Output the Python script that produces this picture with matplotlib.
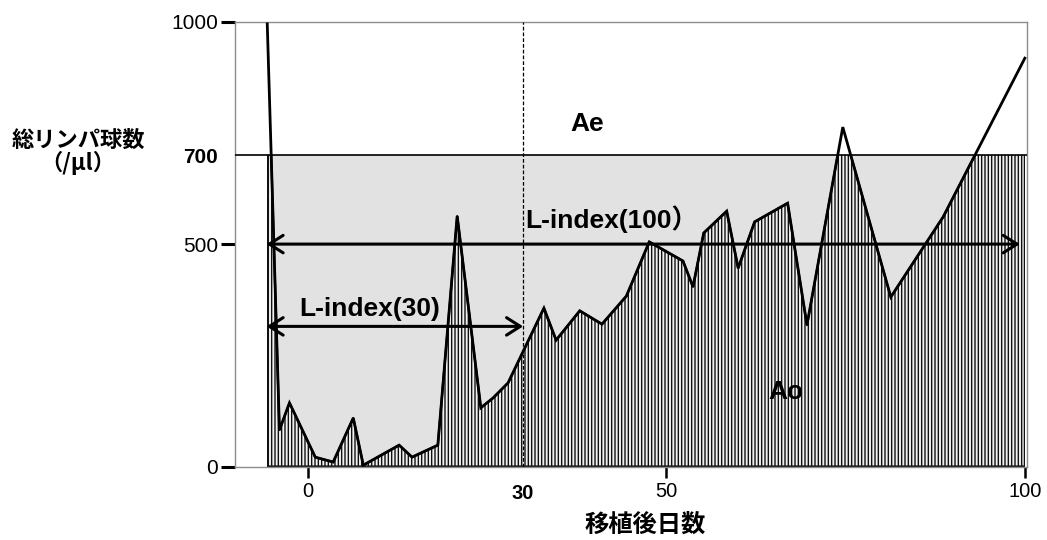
import matplotlib
matplotlib.use("Agg")
import matplotlib.pyplot as plt
from matplotlib.patches import Rectangle
from matplotlib.ticker import FixedLocator, FixedFormatter

plt.rcParams['font.family'] = ['Liberation Sans', 'Noto Sans CJK JP', 'DejaVu Sans']
plt.rcParams['hatch.linewidth'] = 1.0

# Total lymphocyte count after transplantation
days = [-5.7, -4.0, -2.6, 1.0, 3.5, 6.3, 7.7, 12.7, 14.5, 18.1, 20.8, 24.1, 25.8, 27.9,
        32.9, 34.6, 37.9, 41.0, 44.4, 47.6, 52.3, 53.7, 55.2, 58.4, 60.0, 62.3, 66.9,
        69.6, 74.6, 81.3, 88.6, 100.0]
counts = [995, 82, 143, 21, 10, 109, 3, 48, 21, 48, 563, 132, 154, 188,
          356, 284, 350, 320, 383, 505, 462, 404, 525, 574, 446, 550, 592,
          318, 763, 381, 561, 918]

threshold = 700
index_short = 30
index_long = 100
arrow_short_level = 315
arrow_long_level = 500

y_major = [0, 500, 1000]
y_major_labels = ['0', '500', '1000']
x_major = [0, 50, 100]
x_major_labels = ['0', '50', '100']

W, H = 1047, 540
fig = plt.figure(figsize=(W / 100, H / 100), dpi=100)
ax = fig.add_axes([235 / W, 1 - 466.5 / H, (1027 - 235) / W, (466.5 - 21.7) / H])
ax.set_xlim(-10.2, 100.3)
ax.set_ylim(0, 1000)

x0 = days[0]

# Expected area (light grey) up to the threshold
ax.fill_between([x0, index_long], 0, threshold, color='#e2e2e2', lw=0, zorder=1)

# Observed area (hatched), clipped at the threshold
poly = ax.fill_between(days, 0, counts, facecolor='#f0f0f0', edgecolor='#111111',
                       hatch='|||||', lw=1.6, zorder=2)
clip = Rectangle((x0, 0), index_long - x0, threshold, transform=ax.transData)
poly.set_clip_path(clip)

ax.axhline(threshold, color='black', lw=1.2, zorder=3)
ax.axvline(index_short, color='black', lw=0.9, ls=(0, (3, 1.6)), zorder=3)
ax.plot(days, counts, color='black', lw=2.0, zorder=4, solid_joinstyle='miter')

arrow_kw = dict(arrowstyle='<->,head_length=0.55,head_width=0.35', lw=2.2,
                color='black', mutation_scale=18, shrinkA=0, shrinkB=0)
ax.annotate('', xy=(99.3, arrow_long_level), xytext=(x0 - 0.1, arrow_long_level),
            arrowprops=arrow_kw, zorder=5)
ax.annotate('', xy=(index_short, arrow_short_level), xytext=(x0 - 0.1, arrow_short_level),
            arrowprops=arrow_kw, zorder=5)

bold = dict(fontweight='bold', fontsize=19, ha='center', va='center', zorder=6)
ax.text(38.9, 770, 'Ae', **bold)
ax.text(66.7, 167, 'Ao', **bold)
ax.text(8.6, 355, 'L-index(30)', **bold)
ax.text(42.3, 557, 'L-index(100）', **bold)

# Spines
for s in ax.spines.values():
    s.set_color('#8c8c8c')
    s.set_linewidth(1.0)

# Y ticks: regular at 0/500/1000, bold threshold label without tick
ax.yaxis.set_major_locator(FixedLocator(y_major))
ax.yaxis.set_major_formatter(FixedFormatter(y_major_labels))
ax.yaxis.set_minor_locator(FixedLocator([threshold]))
ax.yaxis.set_minor_formatter(FixedFormatter([str(threshold)]))
ax.tick_params(axis='y', which='major', direction='out', length=10, width=2.2,
               color='black', pad=2, labelsize=15)
ax.tick_params(axis='y', which='minor', length=0, pad=12, labelsize=15)
for lab in ax.yaxis.get_minorticklabels():
    lab.set_fontweight('bold')

# X ticks
ax.xaxis.set_major_locator(FixedLocator(x_major))
ax.xaxis.set_major_formatter(FixedFormatter(x_major_labels))
ax.xaxis.set_minor_locator(FixedLocator([index_short]))
ax.xaxis.set_minor_formatter(FixedFormatter([str(index_short)]))
ax.tick_params(axis='x', which='major', direction='out', length=8, width=1.8,
               color='black', pad=3.5, labelsize=14.5)
ax.tick_params(axis='x', which='minor', length=0, pad=12.5, labelsize=14.5)
for lab in ax.xaxis.get_minorticklabels():
    lab.set_fontweight('bold')

# Axis titles
fig.text(78 / W, 1 - 140 / H, '総リンパ球数', ha='center', va='center',
         fontsize=16, fontweight='bold', family=['Noto Sans CJK JP'])
fig.text(78 / W, 1 - 163 / H, '（/μl）', ha='center', va='center',
         fontsize=16, fontweight='bold', family=['Noto Sans CJK JP'])
fig.text(645 / W, 1 - 525 / H, '移植後日数', ha='center', va='center',
         fontsize=17.5, fontweight='bold', family=['Noto Sans CJK JP'])

fig.savefig('out.png', dpi=100)
